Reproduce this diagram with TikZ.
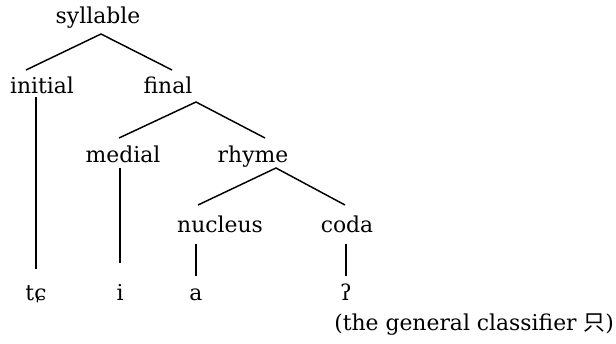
\documentclass[tikz,border=0pt]{standalone}
\usepackage{fontspec}
\setmainfont{DejaVu Serif}
\newfontfamily\cjkfont{Noto Sans CJK SC}
\begin{document}
\begin{tikzpicture}[x=0.75pt,y=-0.75pt,
  lbl/.style={anchor=base,inner sep=0pt,outer sep=0pt,font=\fontsize{16.4pt}{19pt}\selectfont},
  edge/.style={line width=1.1pt,line cap=butt}]
\useasboundingbox (0,0) rectangle (616,343);
% nodes
\node[lbl] (syl) at (98,23) {syllable};
\node[lbl] (ini) at (42,93) {initial};
\node[lbl] (fin) at (168,93) {final};
\node[lbl] (med) at (123,162) {medial};
\node[lbl] (rhy) at (253,162) {rhyme};
\node[lbl] (nuc) at (220,232) {nucleus};
\node[lbl] (cod) at (347,232) {coda};
\node[lbl] (l1) at (36,300) {tɕ};
\node[lbl] (l2) at (120,300) {i};
\node[lbl] (l3) at (196,300) {a};
\node[lbl] (l4) at (346,300) {ʔ};
\node[lbl,anchor=base east] (note) at (614,330) {(the general classifier {\cjkfont 只})};
% attachment points
\coordinate (syl-b) at (101,34);
\coordinate (ini-t) at (26,70);
\coordinate (fin-t) at (172,70);
\coordinate (ini-b) at (36,97);
\coordinate (l1-t) at (36,269);
\coordinate (fin-b) at (196,102);
\coordinate (med-t) at (119,138);
\coordinate (rhy-t) at (265,138);
\coordinate (med-b) at (120,168);
\coordinate (l2-t) at (120,263);
\coordinate (rhy-b) at (276,168);
\coordinate (nuc-t) at (198,205);
\coordinate (cod-t) at (345,205);
\coordinate (nuc-b) at (196,244);
\coordinate (l3-t) at (196,276);
\coordinate (cod-b) at (346,244);
\coordinate (l4-t) at (346,276);
% connectors
\draw[edge] (ini-t) -- (syl-b) -- (fin-t);
\draw[edge] (ini-b) -- (l1-t);
\draw[edge] (med-t) -- (fin-b) -- (rhy-t);
\draw[edge] (med-b) -- (l2-t);
\draw[edge] (nuc-t) -- (rhy-b) -- (cod-t);
\draw[edge] (nuc-b) -- (l3-t);
\draw[edge] (cod-b) -- (l4-t);
\end{tikzpicture}
\end{document}
